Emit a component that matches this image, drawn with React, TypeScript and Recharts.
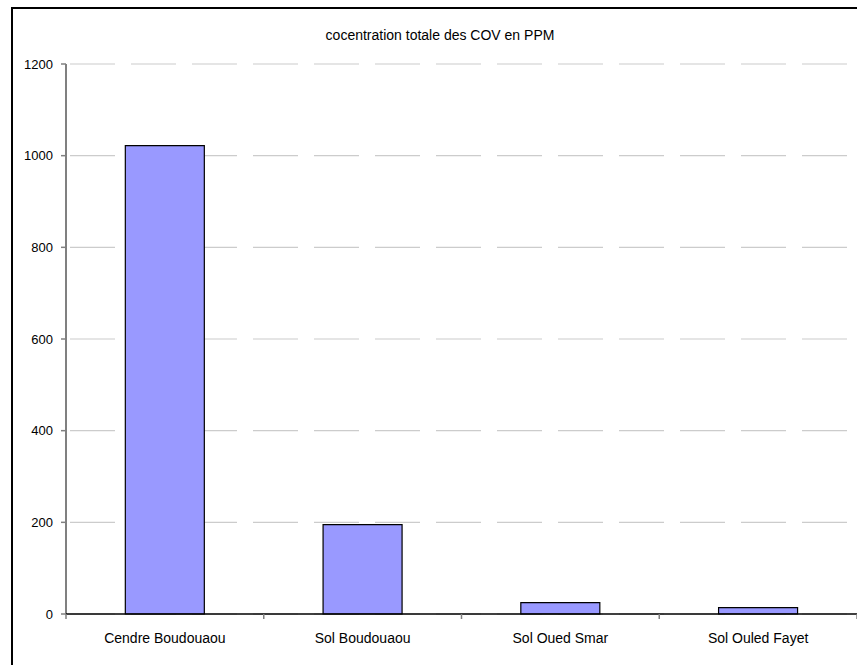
import React from 'react';
import { BarChart, Bar, XAxis, YAxis, CartesianGrid } from 'recharts';

const categories = ['Cendre Boudouaou', 'Sol Boudouaou', 'Sol Oued Smar', 'Sol Ouled Fayet'];
const values = [1022, 195, 25, 14];
const yTicks = [0, 200, 400, 600, 800, 1000, 1200];

const data = categories.map((name, i) => ({ name, cov: values[i] }));

const FONT = '"Liberation Sans", Arial, sans-serif';
const TICK_SIZE = 6;
const TICK_MARGIN = 13;

// category labels plus the tick marks that sit on the category boundaries
const CategoryTick = (props: any) => {
  const { x, y, payload, width, visibleTicksCount, index } = props;
  const band = width / visibleTicksCount;
  const axisY = y - TICK_SIZE - TICK_MARGIN;
  const left = x - band / 2;
  return (
    <g>
      <line x1={left} x2={left} y1={axisY} y2={axisY + 5} stroke="#808080" strokeWidth={1.5} />
      {index === visibleTicksCount - 1 && (
        <line x1={left + band} x2={left + band} y1={axisY} y2={axisY + 5} stroke="#808080" strokeWidth={1.5} />
      )}
      <text x={x} y={y} dy="0.71em" textAnchor="middle" fill="#000" fontSize={14} fontFamily={FONT}>
        {payload.value}
      </text>
    </g>
  );
};

export default function App() {
  return (
    <div style={{ position: 'absolute', left: 0, top: 0, width: 857, height: 665, overflow: 'hidden', background: '#fff' }}>
      <div
        style={{
          position: 'absolute',
          left: 11,
          top: 7,
          width: 880,
          height: 700,
          border: '2px solid #000',
          boxSizing: 'border-box',
        }}
      />
      <div
        style={{
          position: 'absolute',
          left: 240,
          width: 400,
          top: 27,
          textAlign: 'center',
          fontFamily: FONT,
          fontSize: 14,
          color: '#000',
        }}
      >
        cocentration totale des COV en PPM
      </div>
      <div style={{ position: 'absolute', left: 0, top: 0 }}>
        <BarChart
          width={857}
          height={665}
          data={data}
          margin={{ top: 64, right: 0, bottom: 0, left: 0 }}
          barCategoryGap="30%"
        >
          <CartesianGrid
            horizontal
            vertical={false}
            stroke="#cccccc"
            strokeWidth={1.2}
            strokeDasharray="45 16"
            strokeDashoffset={-4}
          />
          <YAxis
            width={66}
            domain={[0, 1200]}
            ticks={yTicks}
            interval={0}
            tickSize={5}
            tickMargin={8}
            axisLine={{ stroke: '#808080', strokeWidth: 2 }}
            tickLine={{ stroke: '#808080', strokeWidth: 1.5 }}
            tick={{ fill: '#000', fontSize: 13, fontFamily: FONT }}
          />
          <XAxis
            dataKey="name"
            height={51}
            interval={0}
            tickSize={TICK_SIZE}
            tickMargin={TICK_MARGIN}
            tickLine={false}
            axisLine={{ stroke: '#000', strokeWidth: 1.5 }}
            tick={<CategoryTick />}
          />
          <Bar dataKey="cov" fill="#9999FF" stroke="#000" strokeWidth={1.2} isAnimationActive={false} />
        </BarChart>
      </div>
    </div>
  );
}
